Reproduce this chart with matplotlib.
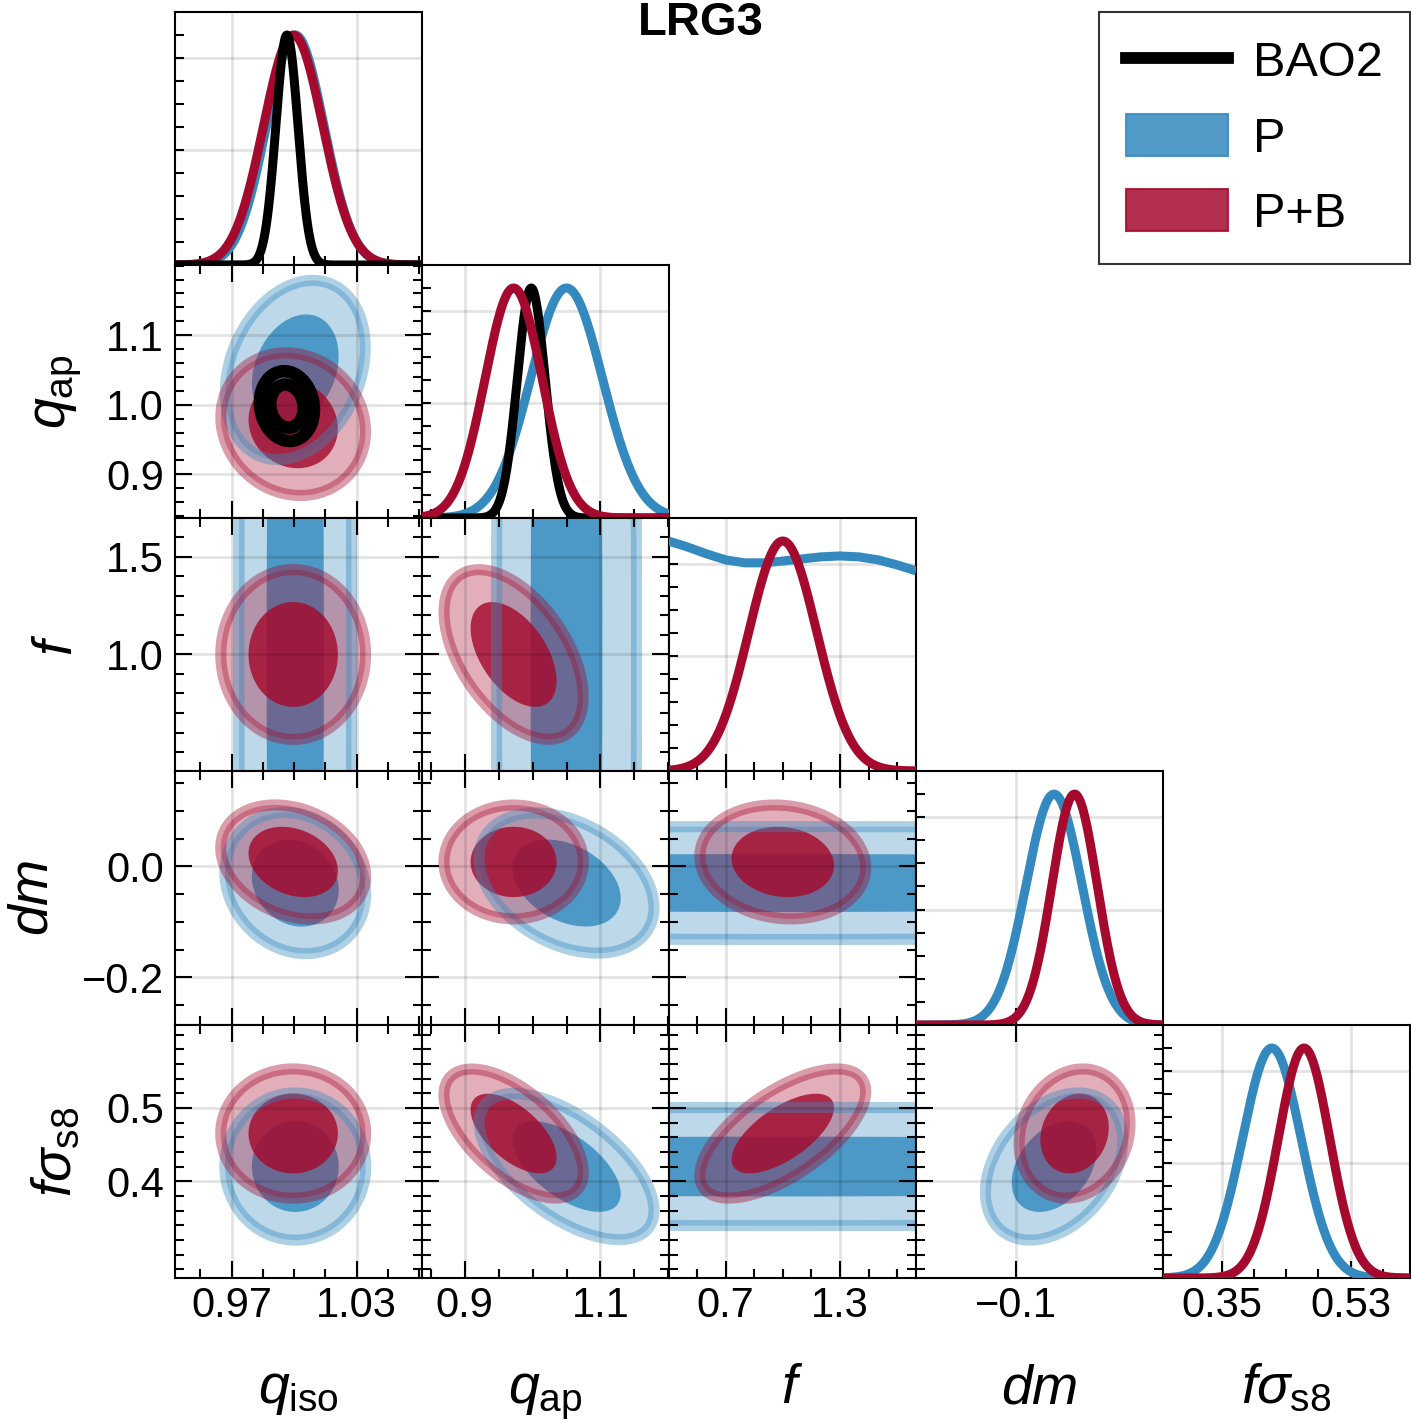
import numpy as np
import matplotlib
matplotlib.use('Agg')
import matplotlib.pyplot as plt
from matplotlib.ticker import FixedLocator, FixedFormatter, NullLocator, NullFormatter
from matplotlib.lines import Line2D
from matplotlib.patches import Patch

plt.rcParams['font.family'] = ['Liberation Sans', 'DejaVu Sans']
plt.rcParams['mathtext.fontset'] = 'custom'
plt.rcParams['mathtext.rm'] = 'Liberation Sans'
plt.rcParams['mathtext.it'] = 'Liberation Sans:italic'
plt.rcParams['mathtext.bf'] = 'Liberation Sans:bold'

# ---------------- data ----------------
param_labels = [r'$q_{\rm iso}$', r'$q_{\rm ap}$', r'$f$', r'$dm$', r'$f\sigma_{\rm s8}$']
param_ranges = [(0.9428, 1.0613), (0.837, 1.201), (0.403, 1.699), (-0.286, 0.172), (0.268, 0.613)]

x_major_ticks = [[0.97, 1.03], [0.9, 1.1], [0.7, 1.3], [-0.1], [0.35, 0.53]]
x_major_labels = [['0.97', '1.03'], ['0.9', '1.1'], ['0.7', '1.3'], ['\u22120.1'], ['0.35', '0.53']]
x_minor_step = [0.015, 0.05, 0.15, None, 0.045]

y_major_ticks = [None, [0.9, 1.0, 1.1], [1.0, 1.5], [-0.2, 0.0], [0.4, 0.5]]
y_major_labels = [None, ['0.9', '1.0', '1.1'], ['1.0', '1.5'], ['\u22120.2', '0.0'], ['0.4', '0.5']]
y_minor_step = [None, 0.02, 0.1, 0.05, 0.02]

diag_major_ticks = [0.5, 0.9]
diag_minor_ticks = [0.1, 0.2, 0.3, 0.4, 0.5, 0.6, 0.7, 0.8, 0.9, 1.0]

# BAO2 (only q_iso, q_ap)
bao2_mean = [0.9965, 0.998]
bao2_sigma = [0.0053, 0.0205]
bao2_corr = -0.10

# P
p_mean = [1.0005, 1.050, 1.00, -0.030, 0.420]
p_sigma = [0.0138, 0.053, 5.0, 0.052, 0.041]
p_corr = [[1.00, 0.25, 0.00, -0.15, 0.00],
          [0.25, 1.00, 0.00, -0.35, -0.60],
          [0.00, 0.00, 1.00, 0.00, 0.00],
          [-0.15, -0.35, 0.00, 1.00, 0.35],
          [0.00, -0.60, 0.00, 0.35, 1.00]]
# P marginal of f (nearly flat)
p_f_grid = [0.40, 0.50, 0.60, 0.70, 0.80, 0.90, 1.00, 1.10, 1.20, 1.30, 1.40, 1.50, 1.60, 1.70]
p_f_density = [1.000, 0.974, 0.944, 0.918, 0.905, 0.905, 0.913, 0.922, 0.931, 0.935, 0.931, 0.918, 0.896, 0.870]

# P+B
pb_mean = [0.9995, 0.972, 1.00, 0.008, 0.465]
pb_sigma = [0.0142, 0.042, 0.178, 0.042, 0.036]
pb_corr = [[1.00, -0.10, 0.00, -0.25, 0.00],
           [-0.10, 1.00, -0.50, 0.00, -0.60],
           [0.00, -0.50, 1.00, -0.10, 0.65],
           [-0.25, 0.00, -0.10, 1.00, 0.15],
           [0.00, -0.60, 0.65, 0.15, 1.00]]

legend_labels = ['BAO2', 'P', 'P+B']
title = 'LRG3'

# ---------------- style ----------------
c_blue = '#348abf'
c_red = '#a50a2e'
c_black = 'black'

W, H = 1411, 1421
col_edges = [175, 422, 669, 916, 1163, 1410]
row_edges = [12, 265, 518, 771, 1025, 1278]
npar = 5

fig = plt.figure(figsize=(W / 100, H / 100), dpi=100)


def minor_ticks(anchor, step, lo, hi):
    k0 = int(np.floor((lo - anchor) / step)) - 1
    k1 = int(np.ceil((hi - anchor) / step)) + 1
    t = [anchor + k * step for k in range(k0, k1 + 1)]
    return [round(v, 6) for v in t if lo - 1e-9 <= v <= hi + 1e-9]


def gauss2d(X, Y, mx, my, sx, sy, r):
    dx = (X - mx) / sx
    dy = (Y - my) / sy
    return np.exp(-(dx * dx - 2 * r * dx * dy + dy * dy) / (2 * (1 - r * r)))


def hpd_levels(Z, fracs):
    z = np.sort(Z.ravel())[::-1]
    c = np.cumsum(z)
    c /= c[-1]
    return [z[min(np.searchsorted(c, fr), len(z) - 1)] for fr in fracs]


def draw_filled(ax, X, Y, Z, color):
    l68, l95 = hpd_levels(Z, [0.68, 0.95])
    top = Z.max() * 1.01 + 1e-12
    ax.contourf(X, Y, Z, levels=[l95, top], colors=[color], alpha=0.33, zorder=1, antialiased=True)
    ax.contourf(X, Y, Z, levels=[l68, top], colors=[color], alpha=0.82, zorder=1, antialiased=True)
    ax.contour(X, Y, Z, levels=[l95], colors=[color], linewidths=8.0, alpha=0.40, zorder=1.5)


def draw_lines(ax, X, Y, Z, color):
    l68, l95 = hpd_levels(Z, [0.68, 0.95])
    ax.contour(X, Y, Z, levels=[l95, l68], colors=[color], linewidths=9.0, zorder=1.8)


def style_axis(ax, i, j, diag):
    ax.set_axisbelow(False)
    for s in ax.spines.values():
        s.set_linewidth(1.5)
    lo, hi = param_ranges[j]
    ax.set_xlim(lo, hi)
    ax.xaxis.set_major_locator(FixedLocator(x_major_ticks[j]))
    if i == npar - 1:
        ax.xaxis.set_major_formatter(FixedFormatter(x_major_labels[j]))
    else:
        ax.xaxis.set_major_formatter(NullFormatter())
    if x_minor_step[j] is None:
        ax.xaxis.set_minor_locator(NullLocator())
    else:
        ax.xaxis.set_minor_locator(FixedLocator(minor_ticks(x_major_ticks[j][0], x_minor_step[j], lo, hi)))
    ax.xaxis.set_minor_formatter(NullFormatter())
    if diag:
        ax.set_ylim(0, 1.1)
        ax.yaxis.set_major_locator(FixedLocator(diag_major_ticks))
        ax.yaxis.set_minor_locator(FixedLocator(diag_minor_ticks))
        ax.yaxis.set_major_formatter(NullFormatter())
        ax.tick_params(axis='x', which='both', direction='in', top=False, bottom=True)
        ax.tick_params(axis='y', which='both', direction='in', left=True, right=False,
                       length=6.5, width=1.5)
        ax.tick_params(axis='x', which='major', length=12, width=1.5, labelsize=30, pad=6)
        ax.tick_params(axis='x', which='minor', length=6.5, width=1.5)
    else:
        ylo, yhi = param_ranges[i]
        ax.set_ylim(ylo, yhi)
        ax.yaxis.set_major_locator(FixedLocator(y_major_ticks[i]))
        ax.yaxis.set_minor_locator(FixedLocator(minor_ticks(y_major_ticks[i][0], y_minor_step[i], ylo, yhi)))
        if j == 0:
            ax.yaxis.set_major_formatter(FixedFormatter(y_major_labels[i]))
            ax.set_ylabel(param_labels[i], fontsize=40, labelpad=16)
        else:
            ax.yaxis.set_major_formatter(NullFormatter())
        ax.tick_params(which='both', direction='in', top=True, bottom=True, left=True, right=True)
        ax.tick_params(which='major', length=12, width=1.5, labelsize=30)
        ax.tick_params(which='minor', length=6.5, width=1.5)
        ax.tick_params(axis='x', which='major', pad=6)
        ax.tick_params(axis='y', which='major', pad=8)
    ax.yaxis.set_minor_formatter(NullFormatter())
    ax.grid(True, which='major', color='black', alpha=0.11, linewidth=2.0)


NG = 320
for i in range(npar):
    for j in range(i + 1):
        x0 = col_edges[j] / W
        y0 = 1 - row_edges[i + 1] / H
        w = (col_edges[j + 1] - col_edges[j]) / W
        h = (row_edges[i + 1] - row_edges[i]) / H
        ax = fig.add_axes([x0, y0, w, h])
        if i == j:
            lo, hi = param_ranges[j]
            xs = np.linspace(lo, hi, 400)
            # P
            if j == 2:
                ax.plot(p_f_grid, p_f_density, color=c_blue, lw=6.5, zorder=3,
                        solid_capstyle='butt', clip_on=True)
            else:
                ax.plot(xs, np.exp(-0.5 * ((xs - p_mean[j]) / p_sigma[j]) ** 2),
                        color=c_blue, lw=6.5, zorder=3)
            ax.plot(xs, np.exp(-0.5 * ((xs - pb_mean[j]) / pb_sigma[j]) ** 2),
                    color=c_red, lw=6.5, zorder=3.1)
            if j < 2:
                zb = 3.2 if j == 0 else 3.05
                ax.plot(xs, np.exp(-0.5 * ((xs - bao2_mean[j]) / bao2_sigma[j]) ** 2),
                        color=c_black, lw=6.5, zorder=zb)
            style_axis(ax, i, j, True)
        else:
            xlo, xhi = param_ranges[j]
            ylo, yhi = param_ranges[i]
            X, Y = np.meshgrid(np.linspace(xlo, xhi, NG), np.linspace(ylo, yhi, NG))
            Zp = gauss2d(X, Y, p_mean[j], p_mean[i], p_sigma[j], p_sigma[i], p_corr[j][i])
            draw_filled(ax, X, Y, Zp, c_blue)
            Zpb = gauss2d(X, Y, pb_mean[j], pb_mean[i], pb_sigma[j], pb_sigma[i], pb_corr[j][i])
            draw_filled(ax, X, Y, Zpb, c_red)
            if i == 1 and j == 0:
                Zb = gauss2d(X, Y, bao2_mean[0], bao2_mean[1], bao2_sigma[0], bao2_sigma[1], bao2_corr)
                draw_lines(ax, X, Y, Zb, c_black)
            style_axis(ax, i, j, False)

# x axis labels (baseline aligned)
for j in range(npar):
    xc = (col_edges[j] + col_edges[j + 1]) / 2 / W
    fig.text(xc, 1 - 1403 / H, param_labels[j], fontsize=40, ha='center', va='baseline')

# title
fig.text(701 / W, 1 - 23 / H, title, fontsize=34, fontweight='bold', ha='center', va='center')

# legend
handles = [Line2D([0], [0], color=c_black, lw=8.5, solid_capstyle='projecting'),
           Patch(facecolor=c_blue, edgecolor=c_blue, alpha=0.85, linewidth=1.5),
           Patch(facecolor=c_red, edgecolor=c_red, alpha=0.85, linewidth=1.5)]
leg = fig.legend(handles, legend_labels, loc='upper right',
                 bbox_to_anchor=(1410 / W, 1 - 12 / H), bbox_transform=fig.transFigure,
                 fontsize=35, frameon=True, fancybox=False, edgecolor='#333333',
                 borderaxespad=0, handlelength=2.1, handleheight=0.95,
                 labelspacing=0.57, handletextpad=0.53, borderpad=0.55)
leg.get_frame().set_linewidth(1.5)
leg.get_frame().set_alpha(1)

fig.savefig('out.png', dpi=100)
